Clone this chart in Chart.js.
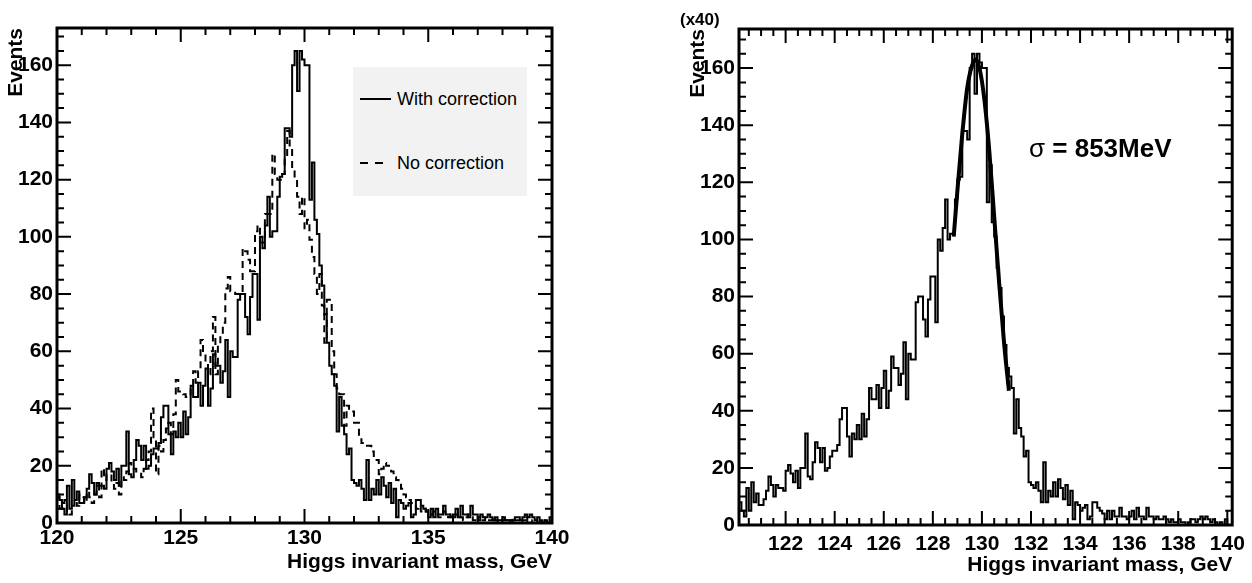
<!DOCTYPE html>
<html>
<head>
<meta charset="utf-8">
<script src="https://cdn.jsdelivr.net/npm/chart.js@4.4.1/dist/chart.umd.min.js"></script>
<style>
  body { margin: 0; background: #fff; width: 1252px; height: 583px; overflow: hidden; position: relative; font-family: 'Liberation Sans', Arial, Helvetica, sans-serif; color: #000; }
  canvas { position: absolute; top: 0; }
  #leftChart { left: 0; }
  #rightChart { left: 626px; }
  .abs { position: absolute; white-space: nowrap; }
  #legendBox { left: 353px; top: 67px; width: 174px; height: 129px; background: #f2f2f2; }
  .legendText { font-size: 18px; line-height: 22px; }
</style>
</head>
<body>
<canvas id="leftChart" width="626" height="583"></canvas>
<canvas id="rightChart" width="626" height="583"></canvas>

<div class="abs" id="legendBox"></div>
<svg class="abs" style="left:360px;top:97px" width="32" height="4"><line x1="0" y1="2" x2="31" y2="2" stroke="#000" stroke-width="2"/></svg>
<div class="abs legendText" style="left:397px;top:88px">With correction</div>
<svg class="abs" style="left:360px;top:161px" width="32" height="4"><line x1="0" y1="2" x2="28" y2="2" stroke="#000" stroke-width="2" stroke-dasharray="8 7"/></svg>
<div class="abs legendText" style="left:397px;top:152px">No correction</div>

<div class="abs" style="left:680px;top:10px;font-size:17px;line-height:20px;font-weight:bold">(x40)</div>
<div class="abs" style="left:1029px;top:133px;font-size:26px;line-height:30px;font-weight:bold"><span style="font-weight:normal">σ</span> = 853MeV</div>

<script>
// histogram binning: 0.1 GeV bins from 120 to 140 GeV
const massLow = 120;
const binWidth = 0.1;

// Higgs mass with correction (one row per GeV)
const withCorrection = [
    10, 8, 5, 3, 13, 5, 15, 8, 11, 7,
    7, 9, 12, 17, 14, 10, 14, 13, 13, 12,
    19, 21, 18, 15, 19, 13, 20, 20, 32, 17,
    16, 22, 29, 27, 22, 27, 19, 20, 24, 26,
    26, 28, 37, 41, 41, 31, 24, 32, 30, 35,
    30, 39, 31, 37, 48, 44, 44, 49, 41, 48,
    54, 41, 47, 59, 55, 55, 49, 53, 64, 44,
    60, 58, 58, 78, 80, 80, 72, 66, 79, 87,
    87, 71, 100, 96, 104, 114, 100, 102, 102, 114,
    121, 122, 138, 138, 135, 160, 165, 151, 165, 162,
    160, 160, 113, 126, 106, 101, 90, 83, 73, 63,
    55, 52, 48, 32, 44, 34, 31, 24, 26, 15,
    14, 13, 15, 12, 8, 22, 8, 12, 10, 15,
    10, 16, 13, 9, 14, 7, 12, 2, 8, 7,
    5, 6, 7, 2, 3, 8, 8, 6, 5, 4,
    2, 5, 2, 5, 3, 3, 6, 3, 3, 2,
    3, 5, 2, 6, 3, 3, 2, 6, 3, 3,
    2, 3, 2, 2, 3, 2, 1, 2, 1, 1,
    2, 1, 1, 0, 1, 2, 2, 1, 2, 3,
    2, 3, 2, 1, 2, 1, 0, 1, 0, 2
];

// Higgs mass without correction
const noCorrection = [
    9, 5, 7, 8, 4, 3, 6, 8, 6, 10,
    9, 7, 11, 9, 7, 10, 13, 9, 19, 15,
    17, 17, 14, 12, 14, 10, 16, 15, 18, 21,
    20, 19, 18, 18, 16, 19, 22, 25, 40, 30,
    17, 27, 25, 29, 33, 35, 31, 38, 50, 46,
    46, 45, 44, 44, 48, 53, 49, 53, 64, 59,
    56, 52, 60, 72, 52, 62, 66, 70, 82, 86,
    81, 81, 80, 80, 80, 96, 95, 92, 88, 88,
    102, 104, 98, 98, 108, 108, 108, 129, 122, 120,
    120, 122, 128, 137, 131, 124, 120, 114, 108, 114,
    103, 106, 99, 93, 87, 80, 87, 76, 63, 78,
    78, 60, 52, 47, 45, 45, 34, 41, 39, 39,
    35, 35, 30, 28, 27, 27, 27, 25, 22, 22,
    17, 19, 21, 20, 20, 18, 16, 15, 14, 12,
    10, 9, 8, 7, 6, 5, 6, 4, 5, 4,
    4, 3, 4, 3, 2, 3, 4, 3, 2, 3,
    2, 3, 2, 2, 1, 2, 3, 2, 1, 2,
    1, 2, 1, 2, 1, 1, 2, 1, 0, 1,
    1, 1, 0, 1, 2, 1, 1, 0, 1, 1,
    1, 0, 1, 1, 0, 1, 1, 0, 1, 1
];

// fitted peak
const fitMass = [128.85, 129.0, 129.2, 129.4, 129.6, 129.75, 129.9, 130.1, 130.3, 130.5, 130.7, 130.9, 131.1];
const fitEvents = [101, 117, 137, 153, 161, 163, 160, 149, 131, 108, 85, 64, 47];

// tick labels
const leftMassTicks = [120, 125, 130, 135, 140];
const rightMassTicks = [122, 124, 126, 128, 130, 132, 134, 136, 138, 140];
const eventTicks = [0, 20, 40, 60, 80, 100, 120, 140, 160];

const fuente = "'Liberation Sans', Arial, Helvetica, sans-serif";

// puntos del histograma: bordes + centros, dibujado con stepped 'middle'
function histPoints(values) {
    const pts = [{x: massLow, y: 0}, {x: massLow, y: values[0]}];
    values.forEach((v, i) => pts.push({x: massLow + (i + 0.5) * binWidth, y: v}));
    const end = massLow + values.length * binWidth;
    pts.push({x: end, y: values[values.length - 1]});
    pts.push({x: end, y: 0});
    return pts;
}

// marco y ticks hacia adentro, estilo ROOT
const frameTicks = {
    id: 'frameTicks',
    afterDatasetsDraw(chart, args, opts) {
        const {ctx, chartArea: a, scales} = chart;
        const x = scales.x, y = scales.y;
        ctx.save();
        ctx.strokeStyle = '#000';
        ctx.lineWidth = 2;
        ctx.beginPath();
        for (let k = Math.ceil(x.min / opts.xMinor - 1e-6); k * opts.xMinor <= x.max + 1e-6; k++) {
            const v = k * opts.xMinor;
            const r = v / opts.xMajor;
            const len = Math.abs(r - Math.round(r)) < 1e-6 ? 14 : 7;
            const px = x.getPixelForValue(v);
            ctx.moveTo(px, a.bottom); ctx.lineTo(px, a.bottom - len);
            ctx.moveTo(px, a.top); ctx.lineTo(px, a.top + len);
        }
        for (let k = 0; k * opts.yMinor <= y.max; k++) {
            const v = k * opts.yMinor;
            const len = v % opts.yMajor === 0 ? 14 : 7;
            const py = y.getPixelForValue(v);
            ctx.moveTo(a.left, py); ctx.lineTo(a.left + len, py);
            ctx.moveTo(a.right, py); ctx.lineTo(a.right - len, py);
        }
        ctx.stroke();
        ctx.lineWidth = 3;
        ctx.strokeRect(a.left, a.top, a.right - a.left, a.bottom - a.top);
        ctx.restore();
    }
};

function ejes(xMin, xMax, yMax, massTicks, xHeight, xTitlePad, xTickPad) {
    const font = {family: fuente, size: 21, weight: 'bold'};
    return {
        x: {
            type: 'linear', min: xMin, max: xMax,
            afterFit: s => { s.height = xHeight; },
            afterBuildTicks: s => { s.ticks = massTicks.map(v => ({value: v})); },
            grid: {display: false, drawTicks: false},
            border: {display: false},
            ticks: {color: '#000', font: font, padding: xTickPad, maxRotation: 0, autoSkip: false},
            title: {display: true, text: 'Higgs invariant mass, GeV', align: 'end', color: '#000', font: font, padding: {top: 0, bottom: xTitlePad}}
        },
        y: {
            min: 0, max: yMax,
            afterFit: s => { s.width = 57; },
            afterBuildTicks: s => { s.ticks = eventTicks.map(v => ({value: v})); },
            grid: {display: false, drawTicks: false},
            border: {display: false},
            ticks: {color: '#000', font: font, padding: 4},
            title: {display: true, text: 'Events', align: 'end', color: '#000', font: font, padding: {top: 4, bottom: 0}}
        }
    };
}

const comunes = {
    responsive: false,
    animation: false,
    events: [],
    plugins: {legend: {display: false}, tooltip: {enabled: false}}
};

// Grafico izquierdo
new Chart(document.getElementById('leftChart').getContext('2d'), {
    type: 'line',
    data: {
        datasets: [{
            label: 'With correction',
            data: histPoints(withCorrection),
            stepped: 'middle',
            borderColor: '#000',
            borderWidth: 2,
            pointRadius: 0
        }, {
            label: 'No correction',
            data: histPoints(noCorrection),
            stepped: 'middle',
            borderColor: '#000',
            borderWidth: 2,
            borderDash: [7, 5],
            pointRadius: 0
        }]
    },
    options: Object.assign({}, comunes, {
        layout: {padding: {left: 0, top: 28, right: 74, bottom: 0}},
        scales: ejes(120, 140, 173, leftMassTicks, 60, 8, 3),
        plugins: Object.assign({}, comunes.plugins, {frameTicks: {xMinor: 1, xMajor: 5, yMinor: 5, yMajor: 20}})
    }),
    plugins: [frameTicks]
});

// Grafico derecho con el ajuste
new Chart(document.getElementById('rightChart').getContext('2d'), {
    type: 'line',
    data: {
        datasets: [{
            label: 'Fit',
            data: fitMass.map((m, i) => ({x: m, y: fitEvents[i]})),
            borderColor: '#000',
            borderWidth: 4,
            cubicInterpolationMode: 'monotone',
            pointRadius: 0
        }, {
            label: 'With correction',
            data: histPoints(withCorrection),
            stepped: 'middle',
            borderColor: '#000',
            borderWidth: 2,
            pointRadius: 0
        }]
    },
    options: Object.assign({}, comunes, {
        layout: {padding: {left: 56, top: 29, right: 18, bottom: 0}},
        scales: ejes(120.1, 140.2, 173.7, rightMassTicks, 58, 5, 7),
        plugins: Object.assign({}, comunes.plugins, {frameTicks: {xMinor: 0.5, xMajor: 2, yMinor: 5, yMajor: 20}})
    }),
    plugins: [frameTicks]
});
</script>
</body>
</html>
